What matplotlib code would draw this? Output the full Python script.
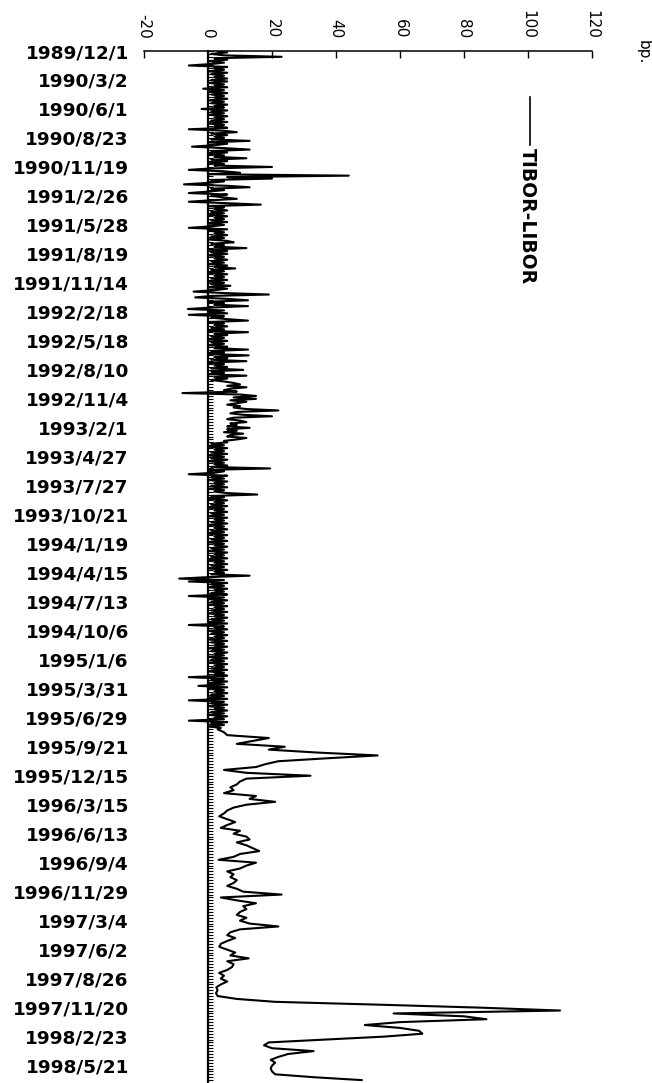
import matplotlib
matplotlib.use('Agg')
import matplotlib.pyplot as plt
from matplotlib.ticker import MultipleLocator
from matplotlib.lines import Line2D

# date labels (one every 10 steps of the vertical axis)
date_labels = ['1989/12/1', '1990/3/2', '1990/6/1', '1990/8/23', '1990/11/19',
               '1991/2/26', '1991/5/28', '1991/8/19', '1991/11/14', '1992/2/18',
               '1992/5/18', '1992/8/10', '1992/11/4', '1993/2/1', '1993/4/27',
               '1993/7/27', '1993/10/21', '1994/1/19', '1994/4/15', '1994/7/13',
               '1994/10/6', '1995/1/6', '1995/3/31', '1995/6/29', '1995/9/21',
               '1995/12/15', '1996/3/15', '1996/6/13', '1996/9/4', '1996/11/29',
               '1997/3/4', '1997/6/2', '1997/8/26', '1997/11/20', '1998/2/23',
               '1998/5/21']
x_ticks = [-20, 0, 20, 40, 60, 80, 100, 120]

# TIBOR-LIBOR spread (bp.), 1989/12 - 1995/9, 20 readings per label step
spread_early = [
    3, 6, 1, 5, 23, 2, 6, 0, 5, 1, -6, 6, 2, 5, 0, 6, 1, 5, 2, 6,
    1, 6, 0, 5, 2, 6, -1.5, 5, 0, 6, 1, 5, 2, 6, 0, 5, 1, 6, 2, 5,
    -2, 6, 1, 5, 0, 6, 2, 5, 1, 6, 0, 5, 2, 6, -6, 5, 9, 1, 6, 2,
    5, 1, 13, 0, 6, 2, -5, 5, 13, 1, 6, 0, 5, 2, 12, 1, 6, 0, 5, 2,
    20, 1, -6, 5, 10, 0, 44, 6, 20, 1, 5, 0, -7.5, 6, 13, 1, 5, 0, -6, 6,
    1, 5, 9, 1, -6, 6, 16.5, 0, 5, 2, 6, 1, 5, 0, 6, 2, 5, 1, 6, 0,
    5, 1, -6, 6, 0, 5, 2, 6, 1, 5, 0, 6, 8, 1, 5, 2, 12, 0, 6, 1,
    6, 0, 5, 2, 6, 1, 5, 0, 6, 2, 8.5, 1, 5, 0, 6, 2, 5, 1, 6, 0,
    5, 1, 7, 0, 6, 2, -4.5, 5, 19, 1, -4, 6, 12.5, 0, 5, 2, 12.5, 1, -6.3, 5,
    0, 6, -6, 5, 1, 6, 12.5, 0, 5, 2, 6, 1, 5, 0, 12.5, 2, 6, 1, 5, 0,
    6, 1, 5, 0, 6, 2, 12.5, 1, 5, 0, 12.7, 2, 6, 1, 12, 0, 5, 2, 6, 1,
    11, 1, 5, 0, 12, 2, 6, 1, 5, 8, 10, 6, 12, 7, 5, 9, -8, 10, 15, 8,
    15, 7, 12, 9, 6, 10, 8, 12, 22, 9, 7, 11, 20, 8, 6, 10, 12, 7, 9, 6,
    13, 6, 9, 5, 11, 7, 6, 12, 9, 5, 6, 1, 5, 0, 6, 2, 5, 1, 6, 0,
    5, 1, 6, 0, 5, 2, 6, 1, 19.4, 0, 5, 2, -6, 6, 1, 5, 0, 6, 2, 5,
    1, 6, 0, 5, 2, 6, 15.4, 1, 5, 0, 6, 2, 5, 1, 6, 0, 5, 2, 6, 1,
    5, 0, 6, 2, 5, 1, 6, 0, 5, 2, 6, 1, 5, 0, 6, 2, 5, 1, 6, 0,
    5, 2, 6, 1, 5, 0, 6, 2, 5, 1, 6, 0, 5, 2, 6, 1, 5, 0, 6, 2,
    5, 1, 13, 0, -9, 5, -6, 6, 1, 5, 0, 6, 2, 5, 1, 6, -6, 5, 0, 6,
    1, 5, 0, 6, 2, 5, 1, 6, 0, 5, 2, 6, 1, 5, 0, 6, -6, 5, 2, 6,
    0, 5, 1, 6, 2, 5, 0, 6, 1, 5, 2, 6, 0, 5, 1, 6, 2, 5, 0, 6,
    1, 5, 0, 6, 2, 5, 1, 6, 0, 5, 2, 6, -6, 5, 1, 6, 0, 5, -3, 6,
    0, 5, 2, 6, 1, 5, 0, 6, -6, 5, 1, 6, 0, 5, 2, 6, 1, 5, 0, 6,
    2, 5, -6, 6, 1, 5, 0, 4,
]
# 1995/9 - 1998/6, 10 readings per label step
spread_late = [
    3, 5, 6, 19, 14, 9, 24, 19, 34, 53,
    37, 22, 18, 15, 5, 12, 32, 12, 10, 9,
    7, 8, 5, 15, 13, 21, 12, 8, 6, 5,
    3.5, 6, 8.5, 6, 4, 10, 8, 12, 13, 9,
    12, 14, 16, 10, 8, 3.3, 15, 12, 10, 6,
    8, 7, 9, 8, 6, 9, 11, 23, 4, 9,
    15, 11, 12, 10, 9, 12, 10, 13, 22, 10,
    7, 6, 8.5, 6, 4, 3.5, 6, 8.5, 7, 12.7,
    6, 8, 7.5, 6, 3.5, 5, 4, 6, 4, 2.6,
    3, 2.5, 3, 9, 21, 54, 85, 110, 58, 80,
    87, 60, 49, 60, 66, 67, 55, 37, 19, 17.5,
    20, 33, 25, 22, 19.6, 21, 20, 19.6, 20, 21,
    33, 48,
]

pos_early = [k * 0.5 for k in range(len(spread_early))]
start_late = len(spread_early) * 0.5
pos_late = [start_late + k for k in range(len(spread_late))]

fig = plt.figure(figsize=(6.52, 10.83), dpi=100)
ax = fig.add_axes([144/652, 0.0, 448/652, 1032/1083])

ax.plot(spread_early + spread_late, pos_early + pos_late, color='black', lw=1.5)

ax.set_xlim(-20, 120)
ax.set_ylim(356, 0)

ax.xaxis.tick_top()
ax.set_xticks(x_ticks)
ax.set_xticklabels([str(t) for t in x_ticks], rotation=-90, fontsize=11)
ax.tick_params(axis='x', direction='in', length=5, width=1, pad=9)

ax.spines['bottom'].set_visible(False)
ax.spines['right'].set_visible(False)
ax.spines['top'].set_linewidth(1.1)
ax.spines['left'].set_position(('data', 0))
ax.spines['left'].set_linewidth(1.6)

ax.set_yticks(range(0, 360, 10))
ax.set_yticklabels(date_labels, fontsize=13.3, fontweight='bold')
ax.yaxis.set_minor_locator(MultipleLocator(1))
ax.tick_params(axis='y', which='major', direction='in', length=3.5, width=0.8, pad=57)
ax.tick_params(axis='y', which='minor', direction='in', length=3.5, width=0.8)

# legend drawn by hand, rotated like the rest of the chart
fig.add_artist(Line2D([530/652, 530/652], [1 - 97/1083, 1 - 145/1083],
                      color='black', lw=1.2, transform=fig.transFigure))
fig.text(527/652, 1 - 148/1083, 'TIBOR-LIBOR', rotation=-90, ha='center', va='top',
         fontsize=13.5, fontweight='bold')
fig.text(643/652, 1 - 40/1083, 'bp.', rotation=-90, ha='center', va='top', fontsize=11)

fig.savefig('out.png', dpi=100)
